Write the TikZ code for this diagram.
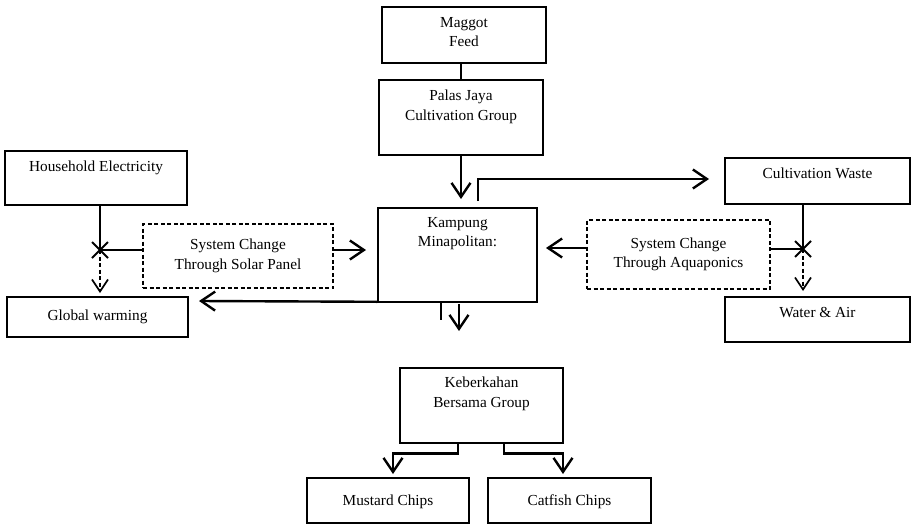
\documentclass[tikz,border=0pt]{standalone}
\usepackage{fontspec}
\setmainfont{Liberation Serif}
\usetikzlibrary{arrows.meta,calc}
\begin{document}
\begin{tikzpicture}[x=1pt,y=-1pt,
  every node/.style={font=\fontsize{15.3}{19.5}\selectfont},
  box/.style={draw, line width=1.6pt, inner sep=0pt},
  dbox/.style={draw, line width=1.3pt, dash pattern=on 4pt off 2.5pt, inner sep=0pt},
  txt/.style={align=center, anchor=north, inner sep=0pt},
  conn/.style={line width=2.4pt},
  thin/.style={line width=1.7pt},
  arr/.style={line width=2.4pt, -{Straight Barb[length=14pt,width=19pt,line width=2.4pt]}},
  darr/.style={line width=1.5pt, dash pattern=on 4pt off 2.5pt, -{Straight Barb[length=12pt,width=16pt,line width=1.7pt]}},
  xmark/.style={line width=2pt}
]
\useasboundingbox (0,0) rectangle (911,525);
\fill[white] (0,0) rectangle (911,525);
% boxes
\node[box, minimum width=164pt, minimum height=56pt] (feed) at (464,35) {};
\node[txt] (feedt) at (464,17) {Maggot\\Feed};
\node[box, minimum width=164pt, minimum height=75pt] (palas) at (461,117.5) {};
\node[txt] (palast) at (461,90) {Palas Jaya\\Cultivation Group};
\node[box, minimum width=182pt, minimum height=54pt] (house) at (96,178) {};
\node[txt] (houset) at (96,161) {Household Electricity};
\node[box, minimum width=159pt, minimum height=94pt] (kamp) at (457.5,255) {};
\node[txt] (kampt) at (457.5,217) {Kampung\\Minapolitan:};
\node[box, minimum width=185pt, minimum height=46pt] (waste) at (817.5,181) {};
\node[txt] (wastet) at (817.5,168) {Cultivation Waste};
\node[dbox, minimum width=190pt, minimum height=64pt, align=center] (solar) at (238,256) {System Change\\Through Solar Panel};
\node[dbox, minimum width=183pt, minimum height=69pt, align=center] (aqua) at (678.5,254.5) {System Change\\Through Aquaponics};
\node[box, minimum width=181pt, minimum height=40pt] (glob) at (97.5,317) {Global warming};
\node[box, minimum width=185pt, minimum height=45pt] (water) at (817.5,319.5) {};
\node[txt] (watert) at (817.5,307) {Water \& Air};
\node[box, minimum width=163pt, minimum height=75pt] (keb) at (481.5,405.5) {};
\node[txt] (kebt) at (481.5,377) {Keberkahan\\Bersama Group};
\node[box, minimum width=162pt, minimum height=45pt] (must) at (388,500.5) {};
\node[txt] (mustt) at (388,495) {Mustard Chips};
\node[box, minimum width=163pt, minimum height=45pt] (cat) at (569.5,500.5) {};
\node[txt] (catt) at (569.5,495) {Catfish Chips};
% coordinates
\coordinate (x1) at (100,250);
\coordinate (x2) at (803,249);
\coordinate (p1) at (461,199);
\coordinate (w0) at (478,201);
\coordinate (w1) at (709,179);
\coordinate (g1) at (199,301);
\coordinate (s1) at (366,250);
\coordinate (a1) at (546,248);
\coordinate (k1) at (441,320);
\coordinate (k2) at (459,331);
\coordinate (h1) at (100,293);
\coordinate (v1) at (803,291);
\coordinate (m0) at (458,453.5);
\coordinate (m1) at (393,474);
\coordinate (c0) at (504,453.5);
\coordinate (c1) at (563,474);
% connectors
\draw[conn] (feed.south -| palas.north) -- (palas.north);
\draw[arr] (palas.south) -- (p1);
\draw[arr] (w0) |- (w1);
\draw[arr] ($(kamp.south west)+(0,-1)$) -- (g1);
\draw[conn] (kamp.south -| k1) -- (k1);
\draw[arr] ($(kamp.south -| k2)+(0,1)$) -- (k2);
\draw[thin] (house.south -| x1) -- (x1);
\draw[darr] (x1) -- (h1);
\draw[conn] (solar.west |- x1) -- (x1);
\draw[arr] (solar.east |- s1) -- (s1);
\draw[thin] (waste.south -| x2) -- (x2);
\draw[darr] (x2) -- (v1);
\draw[conn] (aqua.east |- x2) -- (x2);
\draw[arr] (aqua.west |- a1) -- (a1);
\draw[xmark] ($(x1)+(-8,-8)$) -- ($(x1)+(8,8)$) ($(x1)+(-8,8)$) -- ($(x1)+(8,-8)$);
\draw[xmark] ($(x2)+(-8,-8)$) -- ($(x2)+(8,8)$) ($(x2)+(-8,8)$) -- ($(x2)+(8,-8)$);
\draw[arr] (keb.south -| m0) -- (m0) -| (m1);
\draw[arr] (keb.south -| c0) -- (c0) -| (c1);
\end{tikzpicture}
\end{document}
